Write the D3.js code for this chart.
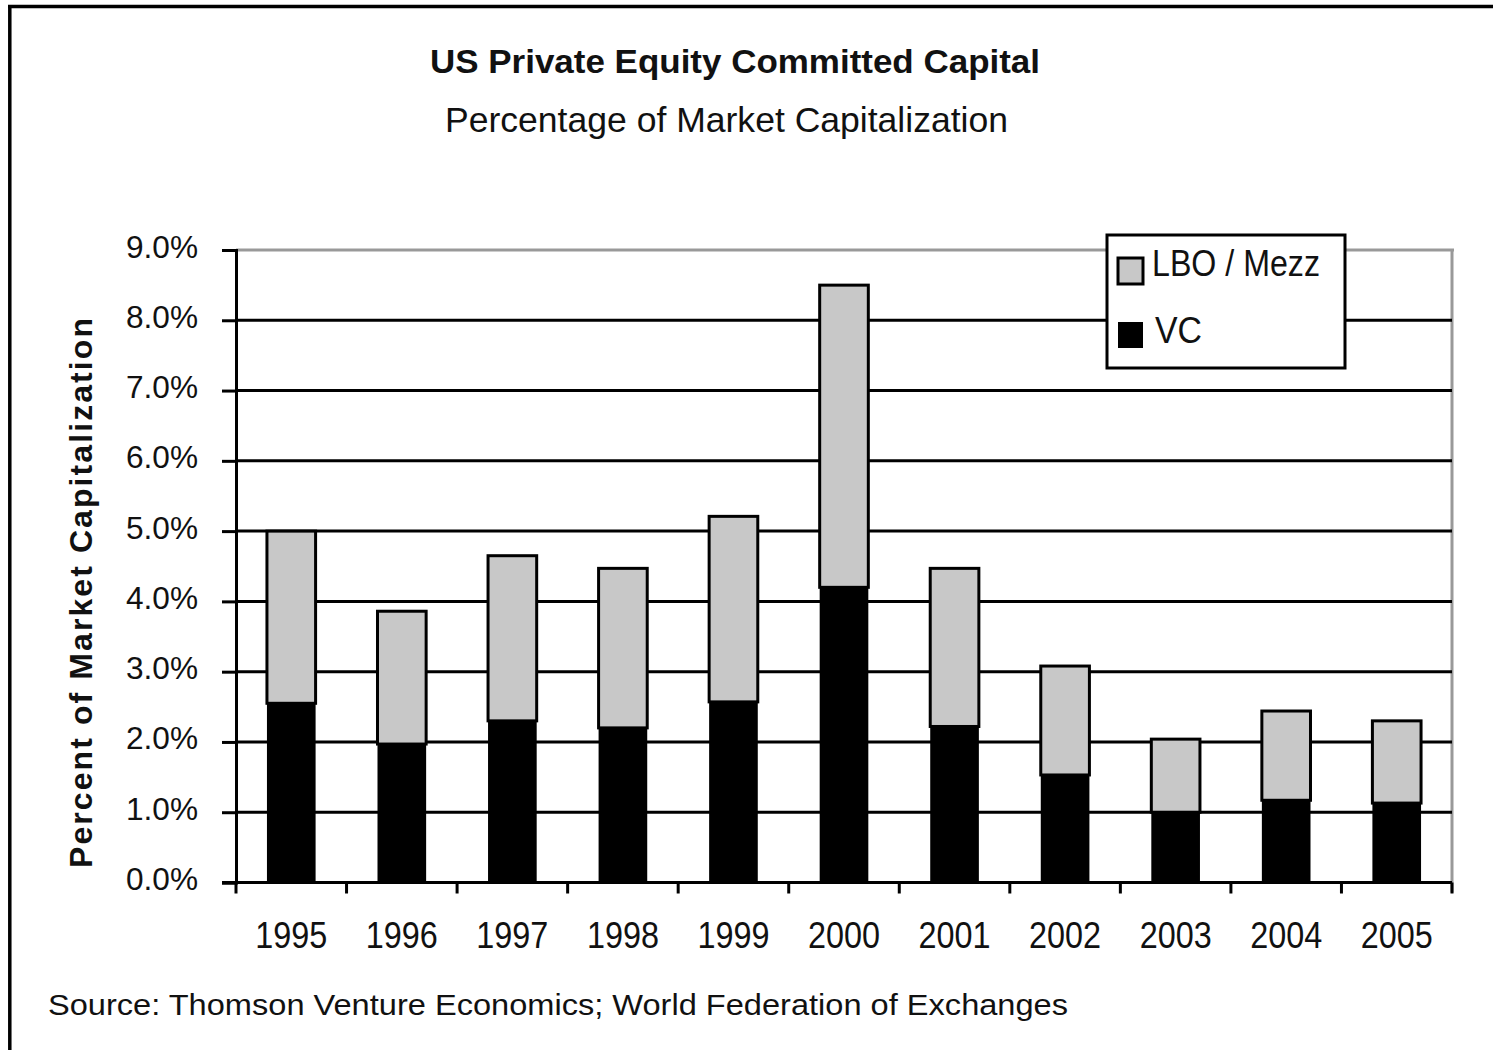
<!DOCTYPE html>
<html>
<head>
<meta charset="utf-8">
<script src="https://cdn.jsdelivr.net/npm/d3@7"></script>
<style>
  html, body { margin: 0; padding: 0; background: #fff; }
  svg { display: block; font-family: "Liberation Sans", Arial, sans-serif; }
</style>
</head>
<body>
<svg id="chart" width="1493" height="1050"></svg>
<script>
// Committed capital as % of US market capitalization, by vintage year
const years = ["1995", "1996", "1997", "1998", "1999", "2000", "2001", "2002", "2003", "2004", "2005"];
const vc = [2.55, 1.97, 2.30, 2.20, 2.57, 4.20, 2.22, 1.53, 1.00, 1.17, 1.13];
const lboMezz = [2.45, 1.89, 2.35, 2.27, 2.64, 4.30, 2.25, 1.55, 1.04, 1.27, 1.17];
const seriesNames = ["VC", "LBO / Mezz"];
const yTicks = [0, 1, 2, 3, 4, 5, 6, 7, 8, 9];
const yTickLabels = ["0.0%", "1.0%", "2.0%", "3.0%", "4.0%", "5.0%", "6.0%", "7.0%", "8.0%", "9.0%"];

const svg = d3.select("#chart");
const plot = { left: 236, right: 1452, top: 250, bottom: 882.5 };

const x = d3.scaleBand().domain(years).range([plot.left, plot.right])
  .paddingInner(0.56).paddingOuter(0.28);
const y = d3.scaleLinear().domain([0, 9]).range([plot.bottom, plot.top]);

const rows = years.map((yr, i) => ({ year: yr, "VC": vc[i], "LBO / Mezz": lboMezz[i] }));
const stacked = d3.stack().keys(seriesNames)(rows);
const fills = { "VC": "#000000", "LBO / Mezz": "#c8c8c8" };

// outer frame (top and left edges)
svg.append("line").attr("x1", 8).attr("x2", 1493).attr("y1", 6.5).attr("y2", 6.5)
  .attr("stroke", "#000").attr("stroke-width", 3.5);
svg.append("line").attr("x1", 9.8).attr("x2", 9.8).attr("y1", 5).attr("y2", 1050)
  .attr("stroke", "#000").attr("stroke-width", 3.5);

// titles
svg.append("text").attr("x", 735).attr("y", 73).attr("text-anchor", "middle")
  .attr("font-size", 33).attr("font-weight", "bold").attr("fill", "#111")
  .attr("textLength", 610).attr("lengthAdjust", "spacingAndGlyphs")
  .text("US Private Equity Committed Capital");
svg.append("text").attr("x", 726.5).attr("y", 132).attr("text-anchor", "middle")
  .attr("font-size", 35).attr("fill", "#111")
  .attr("textLength", 563).attr("lengthAdjust", "spacingAndGlyphs")
  .text("Percentage of Market Capitalization");

// plot border (grey) on top and right
svg.append("line").attr("x1", plot.left).attr("x2", plot.right + 2).attr("y1", y(9)).attr("y2", y(9))
  .attr("stroke", "#999").attr("stroke-width", 3);
svg.append("line").attr("x1", plot.right).attr("x2", plot.right).attr("y1", y(9)).attr("y2", plot.bottom + 10)
  .attr("stroke", "#999").attr("stroke-width", 3);

// horizontal gridlines
svg.append("g").selectAll("line").data(yTicks.filter(t => t > 0 && t < 9)).join("line")
  .attr("x1", plot.left).attr("x2", plot.right)
  .attr("y1", d => y(d)).attr("y2", d => y(d))
  .attr("stroke", "#000").attr("stroke-width", 3);

// stacked bars
const layers = svg.append("g").selectAll("g").data(stacked).join("g")
  .attr("fill", d => fills[d.key]);
layers.selectAll("rect").data(d => d.map(p => ({ key: d.key, p }))).join("rect")
  .attr("x", d => x(d.p.data.year))
  .attr("width", x.bandwidth())
  .attr("y", d => y(d.p[1]))
  .attr("height", d => y(d.p[0]) - y(d.p[1]))
  .attr("stroke", d => d.key === "VC" ? "none" : "#000")
  .attr("stroke-width", 3);

// y axis
const yAxis = svg.append("g").attr("transform", `translate(${plot.left},0)`)
  .call(d3.axisLeft(y).tickValues(yTicks).tickSize(14).tickPadding(24)
    .tickFormat((d, i) => yTickLabels[i]));
yAxis.select(".domain").attr("stroke", "#000").attr("stroke-width", 3);
yAxis.selectAll(".tick line").attr("stroke", "#000").attr("stroke-width", 3);
yAxis.selectAll(".tick text").attr("font-size", 32).attr("fill", "#111")
  .attr("font-family", "Liberation Sans, Arial, sans-serif").attr("dy", "0.22em")
  .attr("textLength", 72).attr("lengthAdjust", "spacingAndGlyphs");

// x axis: labels centred on bars, tick marks at category boundaries
const xAxis = svg.append("g").attr("transform", `translate(0,${plot.bottom})`)
  .call(d3.axisBottom(x).tickSize(0).tickPadding(40));
xAxis.select(".domain").remove();
xAxis.selectAll(".tick text").attr("font-size", 36).attr("fill", "#111")
  .attr("font-family", "Liberation Sans, Arial, sans-serif")
  .attr("textLength", 72).attr("lengthAdjust", "spacingAndGlyphs");
const gap = (x.step() - x.bandwidth()) / 2;
const bounds = years.map(d => x(d) - gap).concat([x(years[years.length - 1]) + x.bandwidth() + gap]);
svg.append("line").attr("x1", plot.left - 14).attr("x2", plot.right).attr("y1", plot.bottom).attr("y2", plot.bottom)
  .attr("stroke", "#000").attr("stroke-width", 3);
svg.append("g").selectAll("line").data(bounds).join("line")
  .attr("x1", d => d).attr("x2", d => d)
  .attr("y1", plot.bottom).attr("y2", plot.bottom + 11)
  .attr("stroke", "#000").attr("stroke-width", 3);

// y axis title
svg.append("text")
  .attr("transform", "translate(92,593) rotate(-90)")
  .attr("text-anchor", "middle").attr("font-size", 32).attr("font-weight", "bold").attr("fill", "#111")
  .attr("textLength", 550).attr("lengthAdjust", "spacing")
  .text("Percent of Market Capitalization");

// legend
const lg = svg.append("g");
lg.append("rect").attr("x", 1107).attr("y", 235).attr("width", 238).attr("height", 133)
  .attr("fill", "#fff").attr("stroke", "#000").attr("stroke-width", 3);
const legendItems = [
  { key: "LBO / Mezz", sy: 258, ty: 276, tx: 1152, len: 168 },
  { key: "VC", sy: 322, ty: 343, tx: 1155, len: 47 }
];
lg.selectAll("rect.sw").data(legendItems).join("rect").attr("class", "sw")
  .attr("x", 1118).attr("y", d => d.sy).attr("width", 25).attr("height", 26)
  .attr("fill", d => fills[d.key])
  .attr("stroke", "#000").attr("stroke-width", d => d.key === "VC" ? 0 : 3);
lg.selectAll("text").data(legendItems).join("text")
  .attr("x", d => d.tx).attr("y", d => d.ty)
  .attr("font-size", 37).attr("fill", "#111")
  .attr("textLength", d => d.len).attr("lengthAdjust", "spacingAndGlyphs")
  .text(d => d.key);

// source note
svg.append("text").attr("x", 48).attr("y", 1015)
  .attr("font-size", 29).attr("fill", "#111")
  .attr("textLength", 1020).attr("lengthAdjust", "spacingAndGlyphs")
  .text("Source:  Thomson Venture Economics; World Federation of Exchanges");
</script>
</body>
</html>
